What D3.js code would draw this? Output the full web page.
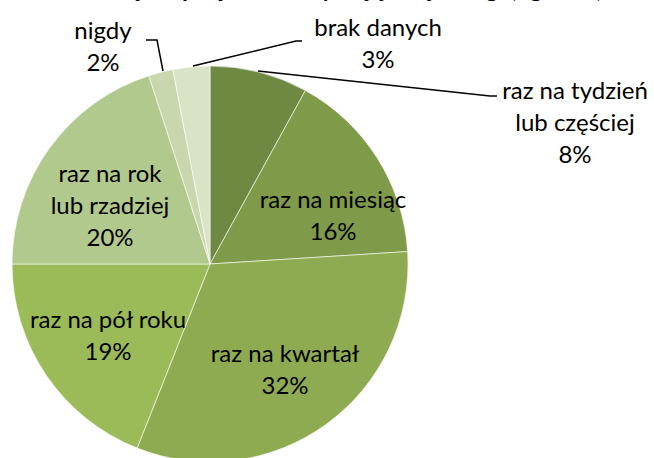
<!DOCTYPE html>
<html>
<head>
<meta charset="utf-8">
<script src="https://cdn.jsdelivr.net/npm/d3@7"></script>
<style>
  body { margin: 0; background: #fff; }
  text { font-family: "Lato", "Open Sans", sans-serif; fill: #000; }
</style>
</head>
<body>
<svg width="654" height="458"></svg>
<script>
// slices, clockwise from 12 o'clock
var categories = ["raz na tydzień lub częściej", "raz na miesiąc", "raz na kwartał",
  "raz na pół roku", "raz na rok lub rzadziej", "nigdy", "brak danych"];
var values = [8, 16, 32, 19, 20, 2, 3];
var labelLines = [
  ["raz na tydzień", "lub częściej"],
  ["raz na miesiąc"],
  ["raz na kwartał"],
  ["raz na pół roku"],
  ["raz na rok", "lub rzadziej"],
  ["nigdy"],
  ["brak danych"]
];
var colors = ["#6f8942", "#7f9b4a", "#8fab51", "#9bbb59", "#b2c98e", "#c8d7ad", "#d8e4c5"];

var svg = d3.select("svg"),
  width = +svg.attr("width"),
  height = +svg.attr("height");

var cx = 210, cy = 264, radius = 198;

// title sits mostly above the visible area, as in the original
svg.append("text")
  .attr("x", 335)
  .attr("y", -3)
  .attr("text-anchor", "middle")
  .style("font-size", "24px")
  .style("font-weight", "bold")
  .text("Jak często pacjenci korzystają z tej usługi (ogółem)");

var pie = d3.pie().sort(null).value(function (d) { return d; });
var arc = d3.arc().innerRadius(0).outerRadius(radius);
var arcs = pie(values);

var g = svg.append("g").attr("transform", "translate(" + cx + "," + cy + ")");

g.selectAll("path")
  .data(arcs)
  .enter()
  .append("path")
  .attr("d", arc)
  .attr("fill", function (d, i) { return colors[i]; })
  .attr("stroke", "#fff")
  .attr("stroke-width", 0.6);

// label centres (relative to pie centre)
var labelPos = [
  { x: 365, y: -141 },
  { x: 123, y: -48 },
  { x: 75, y: 106 },
  { x: -102, y: 72 },
  { x: -100, y: -58 },
  { x: -107, y: -217 },
  { x: 168, y: -220 }
];
var lineH = 32;

var labels = g.selectAll("g.label")
  .data(arcs)
  .enter()
  .append("g")
  .attr("class", "label")
  .attr("transform", function (d, i) {
    return "translate(" + labelPos[i].x + "," + labelPos[i].y + ")";
  });

labels.each(function (d, i) {
  var lines = labelLines[i].concat([values[i] + "%"]);
  var sel = d3.select(this);
  var n = lines.length;
  lines.forEach(function (t, k) {
    sel.append("text")
      .attr("x", 0)
      .attr("y", (k - (n - 1) / 2) * lineH)
      .attr("dy", "0.35em")
      .attr("text-anchor", "middle")
      .style("font-size", "24px")
      .text(t);
  });
});

// leader lines: point on the slice -> bend -> short horizontal tail
var leaders = [
  { i: 0, pts: [[48, -193], [280, -168], [287, -168]] },
  { i: 5, pts: [[-47, -193], [-53, -224], [-64, -224]] },
  { i: 6, pts: [[-17, -198], [86, -223], [92, -223]] }
];
var line = d3.line();
g.selectAll("path.leader")
  .data(leaders)
  .enter()
  .append("path")
  .attr("class", "leader")
  .attr("d", function (d) { return line(d.pts); })
  .attr("fill", "none")
  .attr("stroke", "#000")
  .attr("stroke-width", 1.5);
</script>
</body>
</html>
